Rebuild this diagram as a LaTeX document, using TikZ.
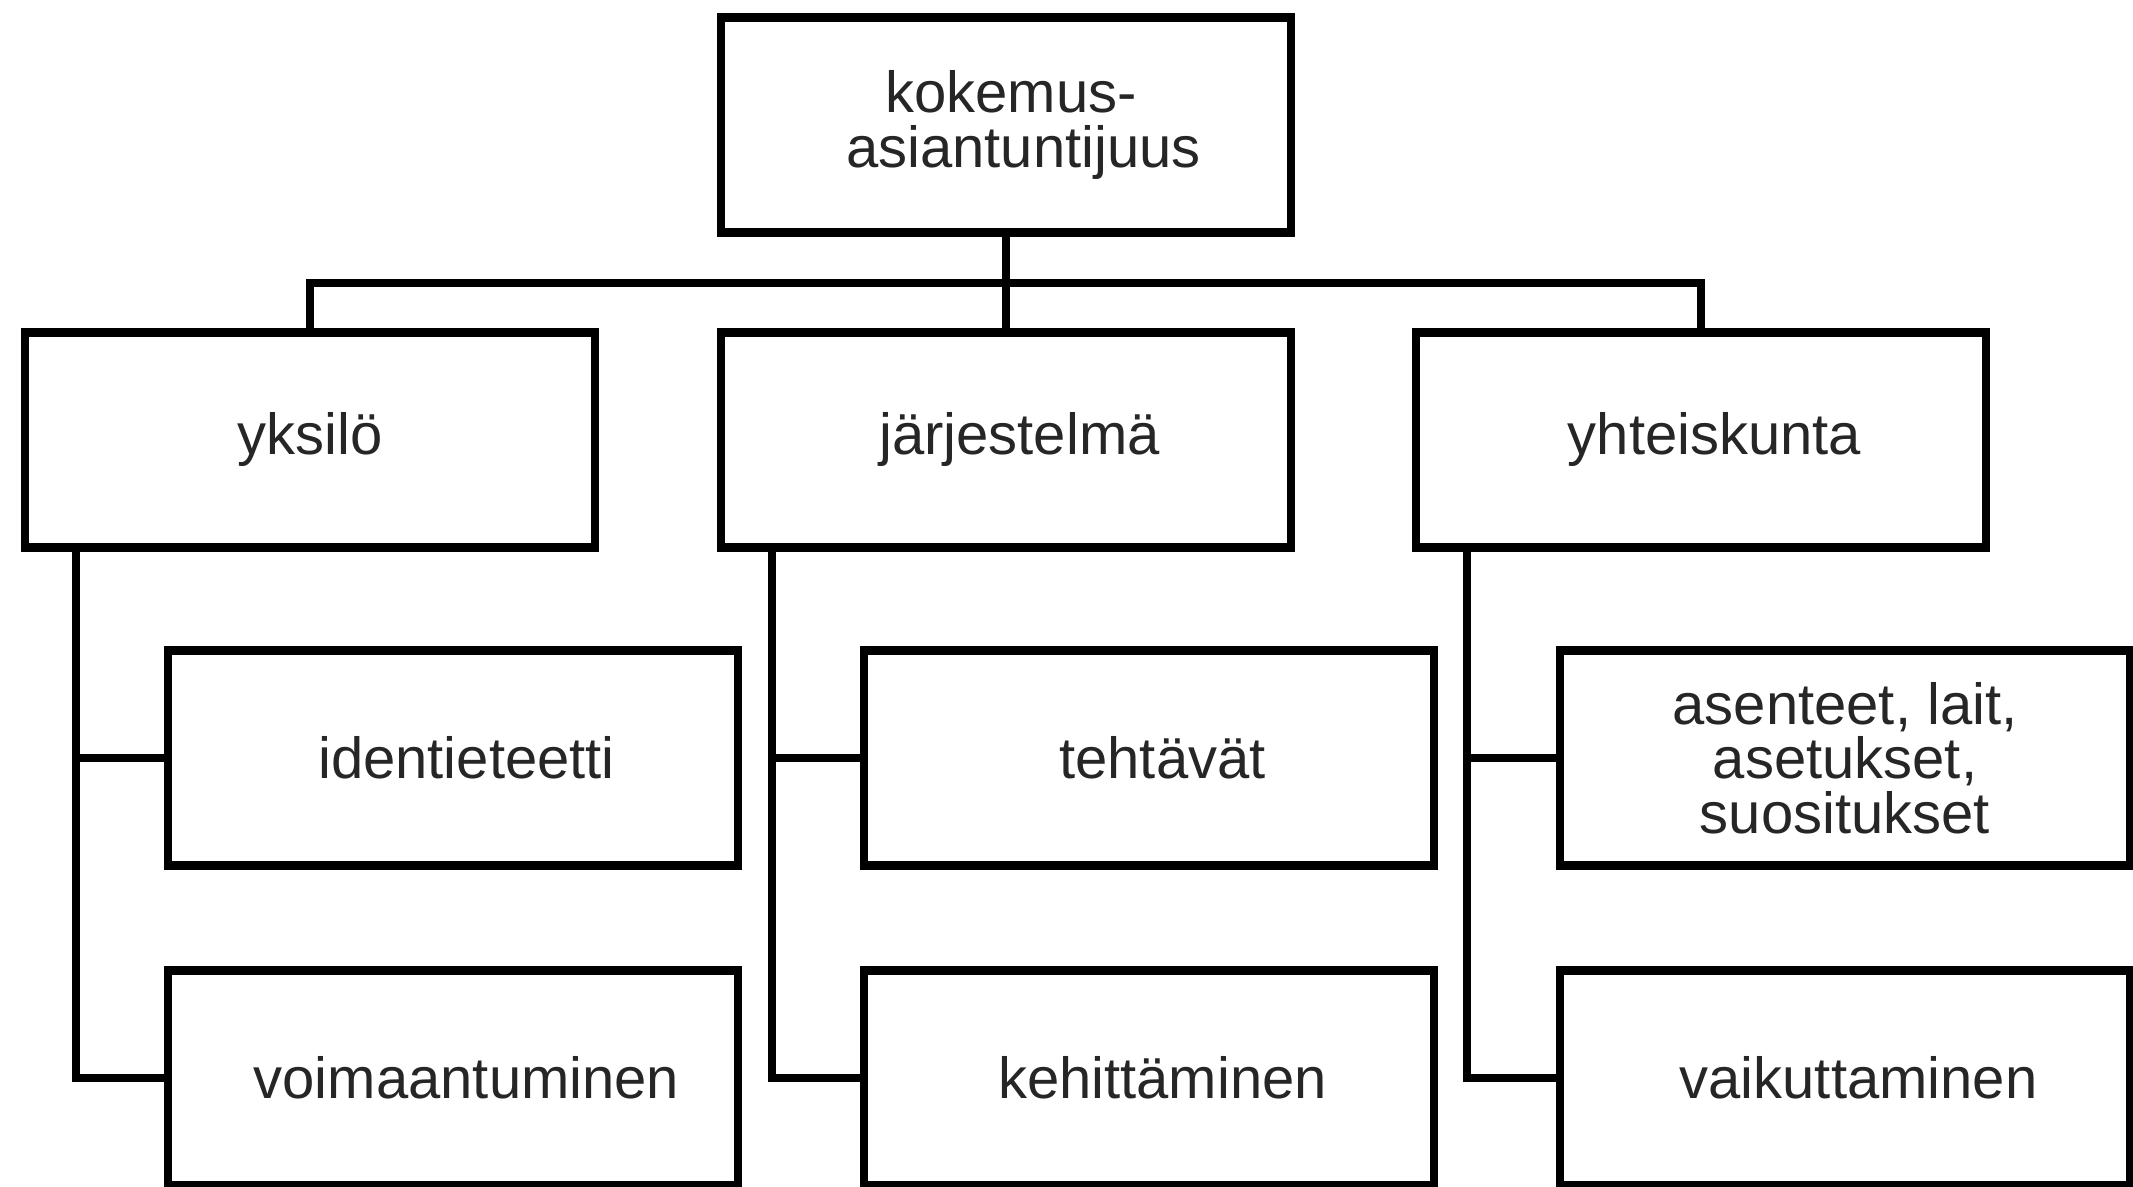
\documentclass[tikz,border=0pt]{standalone}
\usepackage{fontspec}
\setmainfont{Liberation Sans}

\begin{document}
\begin{tikzpicture}[box/.style={draw, rectangle, line width=2.4pt, minimum width=5.70cm, minimum height=2.15cm, align=center, text=black!85, font=\fontsize{16.5}{15.5}\selectfont},
  nudge/.style={execute at begin node={\hspace*{2.7mm}}}]
\useasboundingbox (0,0) rectangle (21.33,-11.87);
\clip (0,0) rectangle (21.33,-11.87);

\node[box] (k) at (10.06,-1.25) {\hspace*{1mm}kokemus-\\\hspace*{3.5mm}asiantuntijuus};

\node[box] (y) at (3.10,-4.40) {yksilö};
\node[box, nudge] (j) at (10.06,-4.40) {järjestelmä};
\node[box, nudge] (h) at (17.01,-4.40) {yhteiskunta};

\coordinate (bar) at (10.06,-2.83);
\path[draw,line width=2.4pt] (k.south) -- (j.north);
\path[draw,line width=2.4pt] (y.north) |- (bar) -| (h.north);

\node[box, nudge] (y1) at (4.53,-7.58) {identieteetti};
\node[box, nudge] (y2) at (4.53,-10.78) {voimaantuminen};
\node[box, nudge] (j1) at (11.49,-7.58) {tehtävät};
\node[box, nudge] (j2) at (11.49,-10.78) {kehittäminen};
\node[box] (h1) at (18.45,-7.58) {asenteet, lait,\\asetukset,\\suositukset};
\node[box, nudge] (h2) at (18.45,-10.78) {vaikuttaminen};

\coordinate (ys) at ([xshift=5.5mm]y.south west);
\path[draw,line width=2.4pt] (ys) |- (y2.west);
\path[draw,line width=2.4pt] (ys |- y1.west) -- (y1.west);
\coordinate (js) at ([xshift=5.5mm]j.south west);
\path[draw,line width=2.4pt] (js) |- (j2.west);
\path[draw,line width=2.4pt] (js |- j1.west) -- (j1.west);
\coordinate (hs) at ([xshift=5.5mm]h.south west);
\path[draw,line width=2.4pt] (hs) |- (h2.west);
\path[draw,line width=2.4pt] (hs |- h1.west) -- (h1.west);
\end{tikzpicture}
\end{document}
